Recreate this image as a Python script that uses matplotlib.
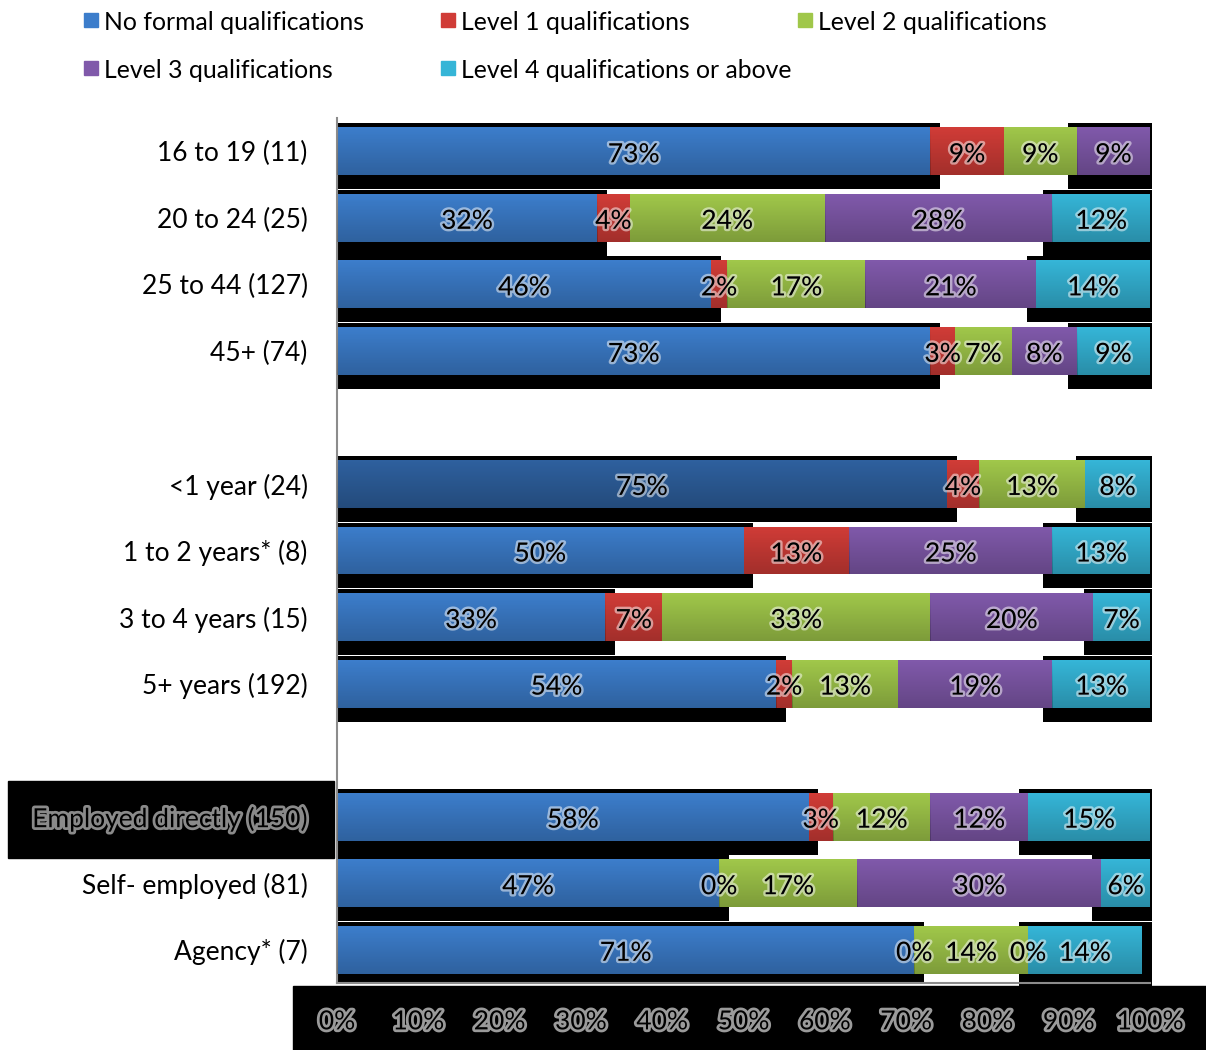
import numpy as np
import matplotlib.pyplot as plt
import matplotlib.patheffects as pe
from matplotlib.patches import Rectangle

plt.rcParams["font.family"] = ["Lato", "DejaVu Sans"]

W, H = 1206, 1050

CATEGORIES = ["16 to 19 (11)", "20 to 24 (25)", "25 to 44 (127)", "45+ (74)",
              "<1 year (24)", "1 to 2 years* (8)", "3 to 4 years (15)", "5+ years (192)",
              "Employed directly (150)", "Self- employed (81)", "Agency* (7)"]
POSITIONS = [0, 1, 2, 3, 5, 6, 7, 8, 10, 11, 12]

SERIES = ["No formal qualifications", "Level 1 qualifications", "Level 2 qualifications",
          "Level 3 qualifications", "Level 4 qualifications or above"]
NO_FORMAL = [73, 32, 46, 73, 75, 50, 33, 54, 58, 47, 71]
LEVEL_1   = [9, 4, 2, 3, 4, 13, 7, 2, 3, 0, 0]
LEVEL_2   = [9, 24, 17, 7, 13, None, 33, 13, 12, 17, 14]
LEVEL_3   = [9, 28, 21, 8, None, 25, 20, 19, 12, 30, 0]
LEVEL_4   = [None, 12, 14, 9, 8, 13, 7, 13, 15, 6, 14]

X_TICKS = [0, 10, 20, 30, 40, 50, 60, 70, 80, 90, 100]

COLOURS   = ["#3C7DCB", "#D03C37", "#A0C74A", "#8059AA", "#35B5D7"]
DARK_BLUE = "#2E609E"   # the <1 year bar is drawn highlighted
BAR_H     = 0.72


def px(x, y):
    # pixel coords (top-left origin) -> figure fraction
    return x / W, 1 - y / H


def shade(ax, patch):
    # darken each bar towards its bottom edge
    x0, y0 = patch.get_x(), patch.get_y()
    w, h = patch.get_width(), patch.get_height()
    x1 = min(x0 + w, 100)
    if x1 <= x0:
        return
    grad = np.zeros((32, 2, 4))
    grad[:, :, 3] = np.linspace(0, 0.22, 32)[:, None]
    im = ax.imshow(grad, extent=(x0, x1, y0 + h, y0), aspect="auto",
                   origin="upper", zorder=3, interpolation="bilinear")
    im.set_clip_path(patch)


fig = plt.figure(figsize=(W / 100, H / 100), dpi=100)

# black boxes behind the x tick labels and the highlighted category
fig.patches.append(Rectangle(px(293, 1050), 913 / W, 64 / H, transform=fig.transFigure,
                             color="black", zorder=0))
fig.patches.append(Rectangle(px(8, 858), 326 / W, 77 / H, transform=fig.transFigure,
                             color="black", zorder=0))

ax = fig.add_axes([337 / W, 67 / H, 813 / W, 865 / H])
ax.set_zorder(2)
ax.patch.set_visible(False)

series_vals = [NO_FORMAL, LEVEL_1, LEVEL_2, LEVEL_3, LEVEL_4]

# black shadow blocks behind the bars
for i, pos in enumerate(POSITIONS):
    vals = [s[i] for s in series_vals]
    present = [v for v in vals if v is not None]
    total = sum(present)
    last = present[-1]
    top, bot = pos - 0.42, pos + 0.57
    ax.add_patch(Rectangle((0, top), NO_FORMAL[i] + 1.2, bot - top,
                           color="black", zorder=1, lw=0))
    start = total - last - 1.1
    ax.add_patch(Rectangle((start, top), 100.3 - start, bot - top,
                           color="black", zorder=1, lw=0, clip_on=False))

left = np.zeros(len(POSITIONS))
for k, (name, vals) in enumerate(zip(SERIES, series_vals)):
    widths = np.array([0 if v is None else v for v in vals], dtype=float)
    colours = [COLOURS[k]] * len(vals)
    if k == 0:
        colours[CATEGORIES.index("<1 year (24)")] = DARK_BLUE
    bars = ax.barh(POSITIONS, widths, BAR_H, left=left, color=colours,
                   label=name, zorder=2, lw=0)
    for p in bars:
        shade(ax, p)
    labels = ["" if v is None else f"{v}%" for v in vals]
    txts = ax.bar_label(bars, labels=labels, label_type="center", fontsize=19,
                        color="black", zorder=5)
    for t in txts:
        t.xyann = (0, -2.5)
        t.set_path_effects([pe.withStroke(linewidth=3.5, foreground=(1, 1, 1, 0.5))])
    left += widths

ax.set_xlim(0, 100)
ax.set_ylim(12.5, -0.5)
ax.set_yticks(POSITIONS)
ax.set_yticklabels(CATEGORIES, fontsize=19)
ax.tick_params(axis="y", length=0, pad=21)
ax.set_xticks(X_TICKS)
ax.set_xticklabels([f"{t}%" for t in X_TICKS], fontsize=19)
ax.tick_params(axis="x", length=0, pad=19)
for s in ["top", "right"]:
    ax.spines[s].set_visible(False)
for s in ["left", "bottom"]:
    ax.spines[s].set_color("#8C8C8C")
    ax.spines[s].set_linewidth(1.5)

for t in ax.get_xticklabels():
    t.set_path_effects([pe.withStroke(linewidth=4, foreground="#9A9A9A")])
for t in ax.get_yticklabels():
    if t.get_text().startswith("Employed"):
        t.set_path_effects([pe.withStroke(linewidth=4, foreground="#8A8A8A")])

# legend, laid out on two rows
legend_pos = [(84, 20), (441, 20), (798, 20), (84, 68), (441, 68)]
for k, (name, (lx, ly)) in enumerate(zip(SERIES, legend_pos)):
    fig.patches.append(Rectangle(px(lx, ly + 7), 14 / W, 14 / H, transform=fig.transFigure,
                                 color=COLOURS[k], zorder=2))
    fig.text(*px(lx + 20, ly + 2), name, fontsize=17.8, va="center", ha="left")

fig.savefig("out.png", dpi=100)
